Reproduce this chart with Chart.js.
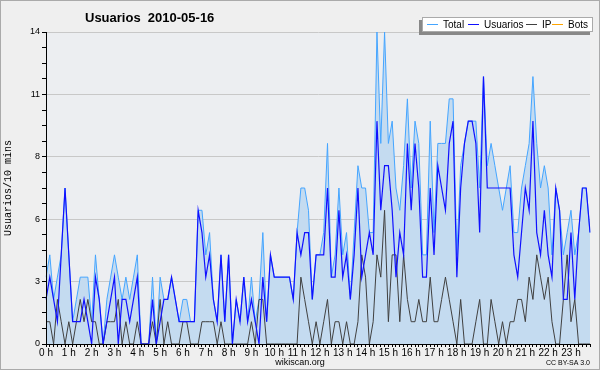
<!DOCTYPE html>
<html><head><meta charset="utf-8">
<script src="https://cdn.jsdelivr.net/npm/chart.js@4/dist/chart.umd.min.js"></script>
<style>html,body{margin:0;padding:0;background:#efefef;}</style>
</head><body>
<canvas id="c" width="600" height="370"></canvas>
<script>
// ---- data (10-minute slots, 00:00 .. 23:50) ----
const hourLabels = ['0 h','1 h','2 h','3 h','4 h','5 h','6 h','7 h','8 h','9 h','10 h','11 h','12 h','13 h','14 h','15 h','16 h','17 h','18 h','19 h','20 h','21 h','22 h','23 h'];
const yTickLabels = ['0','3','6','8','11','14'];
const categories = [];
for (let h = 0; h < 24; h++) for (let m = 0; m < 60; m += 10) categories.push(String(h).padStart(2,'0') + ':' + String(m).padStart(2,'0'));

const total = [3,4,2,3,4,7,4,1,2,3, 3,3,1,4,2,0,2,3,4,3, 2,3,2,3,4,0,0,0,
  3,0,3,2,2,3,2,1,2,2, 1,1,6,6,4,5,2,1,4,1, 4,0,2,1,3,1,3,1,2,
  5,1,4,3,3,3,3,3,2,5, 7,7,6,2,4,4,5,9,3,4, 7,4,5,2,5,8,7,7,5,
  5,14,9,14,9,10,7,6,8,11, 7,10,9,4,4,10,5,9,9,9, 11,11,4,8,9,10,10,
  10,7,12,8,9,8,7,6,7,8, 5,5,7,8,9,12,9,7,8,7, 4,7,6,4,5,6,4,5,7,7,5];
const usuarios = [2,3,2,1,4,7,4,1,1,1, 2,1,0,3,2,0,1,2,3,0, 2,2,1,2,3,0,0,0,
  2,0,1,2,2,3,2,1,1,1, 1,1,6,5,3,4,2,1,4,1, 4,0,2,1,3,1,2,1,0,
  3,1,4,3,3,3,3,3,2,5, 4,5,5,2,4,4,4,7,3,3, 6,3,4,2,4,7,3,4,5,
  4,10,6,8,8,6,3,5,4,9, 6,9,7,3,3,7,4,8,7,6, 9,10,3,7,9,10,10,
  9,5,12,7,7,7,7,7,7,7, 4,3,5,7,6,10,5,4,6,4, 3,7,6,2,2,5,2,5,7,7,5];
const ip = [1,1,0,2,1,0,1,0,1,2, 1,2,1,1,0,0,1,1,1,2, 0,1,0,0,1,0,0,0,
  1,0,2,0,1,0,0,0,1,1, 0,0,0,1,1,1,1,0,1,0, 0,0,0,0,0,0,1,0,2,
  2,0,0,0,0,0,0,0,0,0, 3,2,1,0,1,0,1,2,0,1, 1,0,1,0,0,1,4,3,0,
  1,4,3,6,1,4,4,1,4,2, 1,1,2,1,1,3,1,1,2,3, 2,1,0,2,0,0,0,
  1,2,0,0,2,1,0,1,0,1, 1,2,2,1,3,2,4,3,2,3, 1,0,0,2,4,1,2,0,0,0,0];
const bots = [0,0,0,0,0,0,0,0,0,0, 0,0,0,0,0,0,0,0,0,0, 0,0,0,0,0,0,0,0,
  0,0,0,0,0,0,0,0,0,0, 0,0,0,0,0,0,0,0,0,0, 0,0,0,0,0,0,0,0,0,
  0,0,0,0,0,0,0,0,0,0, 0,0,0,0,0,0,0,0,0,0, 0,0,0,0,0,0,0,0,0,
  0,0,0,0,0,0,0,0,0,0, 0,0,0,0,0,0,0,0,0,0, 0,0,0,0,0,0,0,
  0,0,0,0,0,0,0,0,0,0, 0,0,0,0,0,0,0,0,0,0, 0,0,0,0,0,0,0,0,0,0,0];

const yTickValues = [];
for (let k = 0; k <= 20; k++) yTickValues.push(Math.round(k * 7) / 10);

const COLORS = {total:'#45a5ff', usuarios:'#1010ff', ip:'#404040', bots:'#ffa500', fill:'#c4dbf0'};
const FONT = '"Liberation Sans", Arial, sans-serif';

const deco = {
  id: 'deco',
  beforeDraw(chart) {
    const {ctx, chartArea: a} = chart;
    ctx.save();
    ctx.fillStyle = '#efefef';
    ctx.fillRect(0, 0, chart.width, chart.height);
    ctx.fillStyle = '#eceef1';
    ctx.fillRect(a.left, a.top, a.right - a.left, a.bottom - a.top);
    ctx.restore();
  },
  afterDraw(chart) {
    const {ctx} = chart;
    ctx.save();
    ctx.strokeStyle = '#aaaaaa'; ctx.lineWidth = 1;
    ctx.strokeRect(0.5, 0.5, chart.width - 1, chart.height - 1);
    ctx.fillStyle = '#000';
    ctx.font = 'bold 13px ' + FONT;
    ctx.textBaseline = 'alphabetic'; ctx.textAlign = 'left';
    ctx.fillText('Usuarios  2010-05-16', 85, 21.5);
    ctx.fillStyle = '#888'; ctx.fillRect(419, 20, 171, 15);
    ctx.fillStyle = '#fff'; ctx.fillRect(422, 17, 171, 15);
    ctx.strokeStyle = '#aaa'; ctx.strokeRect(422.5, 17.5, 170, 14);
    const items = [
      {t:'Total', c:COLORS.total, x:427},
      {t:'Usuarios', c:COLORS.usuarios, x:468},
      {t:'IP', c:COLORS.ip, x:526},
      {t:'Bots', c:COLORS.bots, x:552}
    ];
    ctx.font = '10px ' + FONT;
    items.forEach(it => {
      ctx.strokeStyle = it.c; ctx.lineWidth = 1;
      ctx.beginPath(); ctx.moveTo(it.x, 24.5); ctx.lineTo(it.x + 11, 24.5); ctx.stroke();
      ctx.fillStyle = '#000';
      ctx.fillText(it.t, it.x + 16, 28);
    });
    ctx.font = '9px ' + FONT; ctx.textAlign = 'center';
    ctx.fillText('wikiscan.org', 300, 365);
    ctx.font = '7px ' + FONT; ctx.textAlign = 'right';
    ctx.fillText('CC BY-SA 3.0', 590, 365);
    ctx.restore();
  }
};

new Chart(document.getElementById('c'), {
  type: 'line',
  data: {
    labels: categories,
    datasets: [
      {label:'Usuarios', data: usuarios, borderColor: COLORS.usuarios, borderWidth: 1.2, pointRadius: 0, fill: false, order: 1},
      {label:'IP', data: ip, borderColor: COLORS.ip, borderWidth: 1, pointRadius: 0, fill: false, order: 2},
      {label:'Total', data: total, borderColor: COLORS.total, backgroundColor: COLORS.fill, borderWidth: 1, pointRadius: 0, fill: 'origin', order: 3},
      {label:'Bots', data: bots, borderColor: COLORS.bots, borderWidth: 1, pointRadius: 0, fill: false, order: 4}
    ]
  },
  options: {
    responsive: false, animation: false, devicePixelRatio: 1,
    layout: {padding: {top: 32, right: 10, left: 0, bottom: 0}},
    plugins: {legend: {display: false}, title: {display: false}, tooltip: {enabled: false}},
    elements: {line: {tension: 0}},
    scales: {
      x: {
        type: 'category', offset: false,
        grid: {display: true, drawOnChartArea: false, drawTicks: true, tickLength: 3, color: 'transparent', tickColor: '#000'},
        border: {display: true, color: '#000', width: 1, z: 1},
        ticks: {autoSkip: false, maxRotation: 0, minRotation: 0, padding: 0, color: '#000',
          font: {size: 10, family: FONT},
          callback: (v, i) => (i % 6 === 0 ? hourLabels[i / 6] : '')},
        afterFit: (s) => { s.height = 26; }
      },
      y: {
        min: 0, max: 14,
        afterBuildTicks: (s) => { s.ticks = yTickValues.map(v => ({value: v})); },
        grid: {display: true, drawTicks: true, tickLength: 4, tickColor: '#000',
          color: (ctx) => (ctx.index % 4 === 0 && ctx.index > 0 ? '#c8c8c8' : 'transparent')},
        border: {display: true, color: '#000', width: 1, z: 1},
        ticks: {autoSkip: false, padding: 2, color: '#000', font: {size: 9, family: FONT},
          callback: (v, i) => (i % 4 === 0 ? yTickLabels[i / 4] : '')},
        title: {display: true, text: 'Usuarios/10 mins', color: '#000', font: {size: 10, family: '"Liberation Mono", "DejaVu Sans Mono", monospace'}, padding: {top: 2, bottom: 0}},
        afterFit: (s) => { s.width = 46; }
      }
    }
  },
  plugins: [deco]
});
</script>
</body></html>
